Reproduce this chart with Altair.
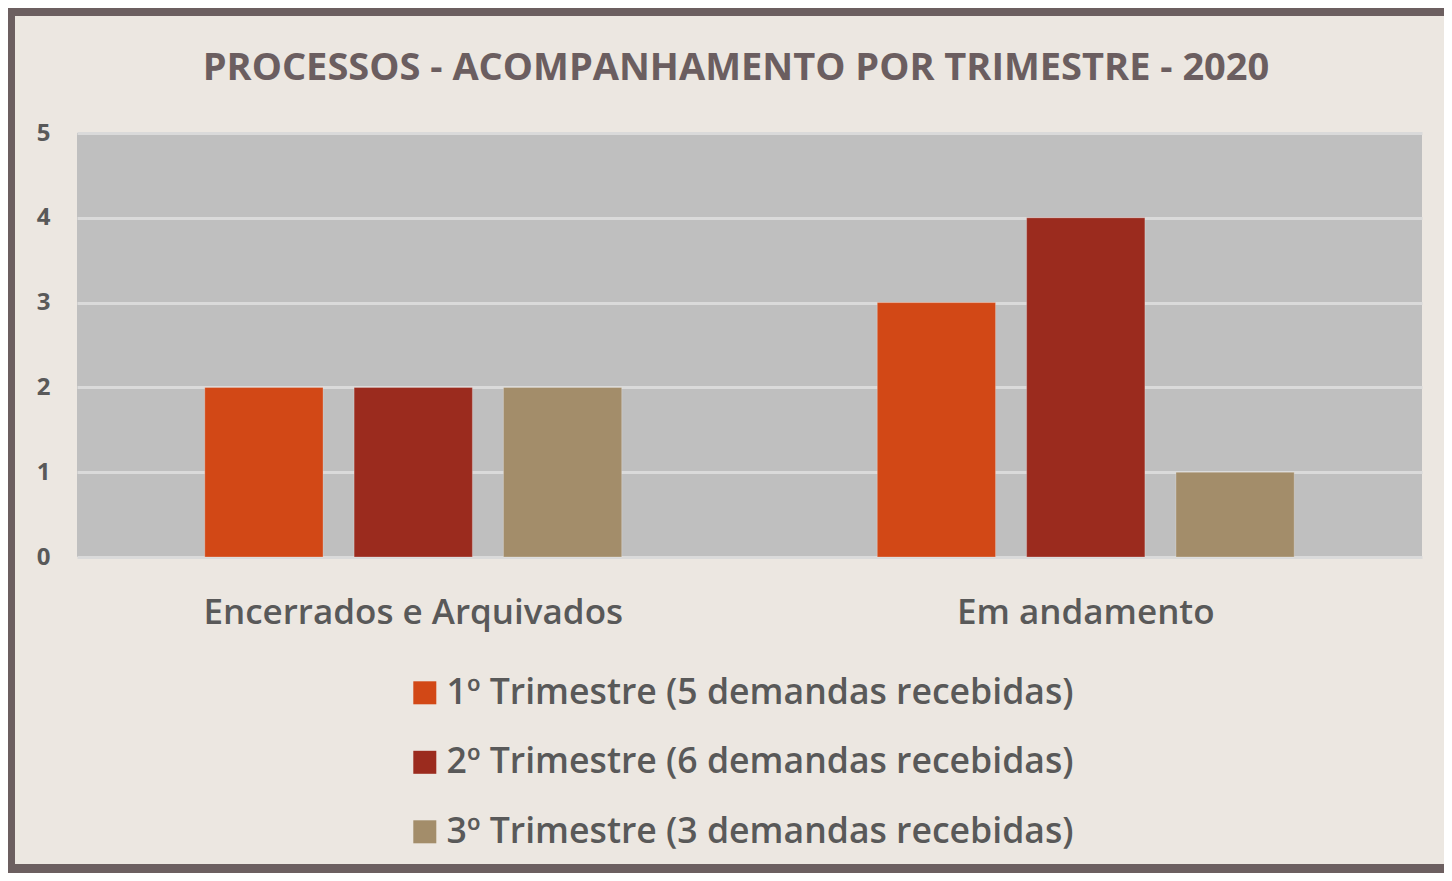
import altair as alt
import pandas as pd

title_text = ["PROCESSOS - ACOMPANHAMENTO POR TRIMESTRE - 2020"]
categories = ["Encerrados e Arquivados", "Em andamento"]
series = [
    "1º Trimestre (5 demandas recebidas)",
    "2º Trimestre (6 demandas recebidas)",
    "3º Trimestre (3 demandas recebidas)",
]
values_encerrados = [2, 2, 2]
values_andamento = [3, 4, 1]
colors = ["#D24816", "#9B2B1E", "#A38D6A"]
y_ticks = [0, 1, 2, 3, 4, 5]

rows = []
for s, v in zip(series, values_encerrados):
    rows.append({"categoria": categories[0], "serie": s, "valor": v})
for s, v in zip(series, values_andamento):
    rows.append({"categoria": categories[1], "serie": s, "valor": v})
df = pd.DataFrame(rows)

TEXT = "#595959"
FONT = "Open Sans"

bars = alt.Chart(df).mark_bar(stroke="#FFFFFF", strokeOpacity=0.25, strokeWidth=1).encode(
    x=alt.X("categoria:N", sort=categories, title=None,
            scale=alt.Scale(paddingInner=0.38, paddingOuter=0.19),
            axis=alt.Axis(labelAngle=0, labelFontSize=35, labelFontWeight=600,
                          labelColor=TEXT, labelFont=FONT, labelPadding=38,
                          labelLimit=700,
                          ticks=False, domain=False, grid=False)),
    xOffset=alt.XOffset("serie:N", sort=series,
                        scale=alt.Scale(paddingInner=0.208, paddingOuter=0)),
    y=alt.Y("valor:Q", title=None,
            scale=alt.Scale(domain=[0, 5], nice=False),
            axis=alt.Axis(values=y_ticks, labelFontSize=24, labelFontWeight="bold",
                          labelColor=TEXT, labelFont=FONT, labelPadding=27,
                          ticks=False, domain=False, grid=True,
                          gridColor="#DADADA", gridWidth=3)),
    color=alt.Color("serie:N", sort=series,
                    scale=alt.Scale(domain=series, range=colors),
                    legend=alt.Legend(title=None, orient="none", legendX=330, legendY=542,
                                      direction="vertical", symbolType="square",
                                      symbolSize=529, symbolStrokeWidth=0,
                                      labelFontSize=35.6, labelFont=FONT, labelColor=TEXT,
                                      labelFontWeight=600, labelOffset=4,
                                      rowPadding=32.5, labelLimit=900)),
)

title = alt.Chart(pd.DataFrame({"t": title_text})).mark_text(
    font=FONT, fontSize=38, fontWeight="bold", color="#6B5E60",
    align="center", baseline="alphabetic", clip=False,
).encode(text="t:N", x=alt.value(659), y=alt.value(-53))

border = alt.Chart(pd.DataFrame({"a": [0]})).mark_rect(
    filled=False, stroke="#6C5F60", strokeWidth=9, clip=False
).encode(
    x=alt.value(-66.5), x2=alt.value(1400),
    y=alt.value(-121.5), y2=alt.value(735.5),
)

chart = alt.layer(bars, title, border).properties(
    width=1345,
    height=424,
    autosize=alt.AutoSizeParams(type="none"),
    padding={"left": 69, "top": 125, "right": 22, "bottom": 316},
    background="#ECE7E1",
).configure_view(fill="#BFBFBF", stroke=None)

chart.save("out.html", embed_options={"renderer": "svg", "actions": False})
